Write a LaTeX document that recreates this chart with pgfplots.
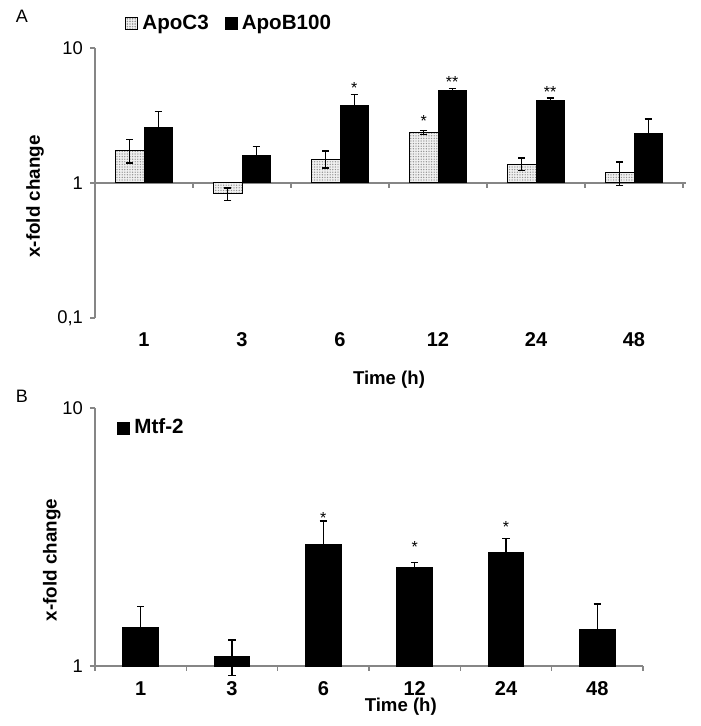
\documentclass[border=0pt]{standalone}
\usepackage{pgfplots}
\pgfplotsset{compat=1.18}
\usepackage{pgfplotstable}
\usepackage{fontspec}
\setmainfont{Liberation Sans}
\usetikzlibrary{patterns}
\definecolor{axgray}{RGB}{134,134,134}
\pgfdeclarepatternformonly{finedots}{\pgfqpoint{-0.5pt}{-0.5pt}}{\pgfqpoint{1pt}{1pt}}{\pgfqpoint{1.3pt}{1.3pt}}{\pgfpathcircle{\pgfqpoint{0pt}{0pt}}{0.36pt}\pgfusepath{fill}}

% time index, ApoC3 value, +err, -err, ApoB100 value, err
\pgfplotstableread{
x c p m b e
0 1.74 0.35 0.33 2.58 0.80
1 0.83 0.09 0.09 1.59 0.27
2 1.50 0.23 0.21 3.77 0.75
3 2.37 0.09 0.09 4.87 0.13
4 1.37 0.16 0.13 4.06 0.21
5 1.19 0.24 0.235 2.34 0.63
}\tableA

% Mtf-2 value, err
\pgfplotstableread{
x v e
0 1.41 0.29
1 1.09 0.17
2 2.97 0.68
3 2.40 0.12
4 2.76 0.36
5 1.39 0.35
}\tableB

\tikzset{asty/.style={font=\fontsize{8}{9}\selectfont, yshift=-1.7pt}}

\begin{document}
\begin{tikzpicture}
\useasboundingbox (0,0) rectangle (350pt,-363pt);
\node[font=\fontsize{9}{10}\selectfont] at (11pt,-8pt) {A};
\node[font=\fontsize{9}{10}\selectfont] at (11pt,-198pt) {B};

\begin{axis}[
  at={(47.5pt,-24pt)}, anchor=north west,
  scale only axis, width=294pt, height=135pt,
  ymode=log, log origin y=0,
  xmin=-0.5, xmax=5.5, ymin=0.1, ymax=10,
  ybar=0pt, bar width=0.29,
  axis y line*=left, axis x line*=bottom,
  y axis line style={axgray, line width=0.6pt},
  x axis line style={draw=none},
  tick align=outside, major tick length=2.5pt,
  ytick style={axgray, line width=0.6pt},
  minor y tick style={draw=none},
  ytick={0.1,1,10}, yticklabels={{0,1},1,10},
  xtick={0,...,5}, xticklabels={1,3,6,12,24,48},
  xtick style={draw=none},
  xticklabel style={font=\bfseries\fontsize{10}{11}\selectfont, anchor=center, yshift=-8.5pt},
  yticklabel style={font=\fontsize{9.2}{10}\selectfont},
  clip=false,
  every axis x label/.style={at={(axis description cs:0.5,0)}, anchor=center, yshift=-31pt, font=\bfseries\fontsize{9.3}{10}\selectfont},
  every axis y label/.style={at={(axis description cs:-0.102,0.45)}, rotate=90, anchor=center, font=\bfseries\fontsize{9.4}{10}\selectfont},
  xlabel={Time (h)}, ylabel={x-fold change},
  legend columns=2,
  legend style={at={(axis description cs:0,1)}, anchor=west, xshift=15pt, yshift=12pt,
    draw=none, fill=none, inner sep=0pt,
    font=\bfseries\fontsize{10.3}{12}\selectfont,
    /tikz/every even column/.append style={column sep=6pt}},
]
\draw[axgray, line width=0.6pt] (axis cs:-0.5,1) -- (axis cs:5.53,1);
\pgfplotsinvokeforeach{-0.5,0.5,1.5,2.5,3.5,4.5,5.5}{\draw[axgray, line width=0.6pt] (axis cs:#1,1) -- ++(0pt,-2.5pt);}
\addplot[draw=black, line width=0.5pt, fill=gray!12, postaction={pattern=finedots, pattern color=gray!85},
  legend image code/.code={\draw[draw=black, line width=0.5pt, fill=gray!12, postaction={pattern=finedots, pattern color=gray!85}] (0pt,-3pt) rectangle (6pt,3pt);},
  error bars/.cd, y dir=both, y explicit,
    error bar style={line width=0.7pt, black},
    error mark options={rotate=90, mark size=1.8pt, line width=0.7pt, black}]
  table[x=x, y=c, y error plus=p, y error minus=m] {\tableA};
\addplot[draw=black, line width=0.5pt, fill=black,
  legend image code/.code={\fill[black] (0pt,-3pt) rectangle (6pt,3pt);},
  error bars/.cd, y dir=both, y explicit,
    error bar style={line width=0.7pt, black},
    error mark options={rotate=90, mark size=1.8pt, line width=0.7pt, black}]
  table[x=x, y=b, y error=e] {\tableA};
\legend{ApoC3, ApoB100}
\node[asty] at (axis cs:2.145,5.35) {*};
\node[asty] at (axis cs:3.145,5.95) {**};
\node[asty] at (axis cs:4.145,5.0) {**};
\node[asty] at (axis cs:2.855,3.06) {*};
\end{axis}

\begin{axis}[
  at={(47.5pt,-204pt)}, anchor=north west,
  scale only axis, width=274pt, height=129pt,
  ymode=log, log origin y=0,
  xmin=-0.5, xmax=5.5, ymin=1, ymax=10,
  ybar=0pt, bar width=0.39,
  axis y line*=left, axis x line*=bottom,
  axis line style={axgray, line width=0.6pt},
  tick align=outside, major tick length=2.5pt,
  ytick style={axgray, line width=0.6pt},
  minor y tick style={draw=none},
  ytick={1,10}, yticklabels={1,10},
  xtick={0,...,5}, xticklabels={1,3,6,12,24,48},
  xtick style={draw=none},
  xticklabel style={font=\bfseries\fontsize{10}{11}\selectfont, anchor=center, yshift=-9pt},
  yticklabel style={font=\fontsize{9.2}{10}\selectfont},
  clip=false,
  every axis x label/.style={at={(axis description cs:0.558,0)}, anchor=center, yshift=-20.5pt, font=\bfseries\fontsize{9.3}{10}\selectfont},
  every axis y label/.style={at={(axis description cs:-0.079,0.411)}, rotate=90, anchor=center, font=\bfseries\fontsize{9.4}{10}\selectfont},
  xlabel={Time (h)}, ylabel={x-fold change},
  legend style={at={(axis description cs:0,1)}, anchor=west, xshift=11pt, yshift=-10pt,
    draw=none, fill=none, inner sep=0pt,
    font=\bfseries\fontsize{10.3}{12}\selectfont},
]
\pgfplotsinvokeforeach{-0.5,0.5,1.5,2.5,3.5,4.5,5.5}{\draw[axgray, line width=0.6pt] (axis cs:#1,1) -- ++(0pt,-2.5pt);}
\addplot[draw=black, line width=0.5pt, fill=black,
  legend image code/.code={\fill[black] (0pt,-3pt) rectangle (6pt,3pt);},
  error bars/.cd, y dir=both, y explicit,
    error bar style={line width=0.7pt, black},
    error mark options={rotate=90, mark size=1.8pt, line width=0.7pt, black}]
  table[x=x, y=v, y error=e] {\tableB};
\legend{Mtf-2}
\node[asty] at (axis cs:2,3.88) {*};
\node[asty] at (axis cs:3,2.97) {*};
\node[asty] at (axis cs:4,3.57) {*};
\end{axis}
\end{tikzpicture}
\end{document}
